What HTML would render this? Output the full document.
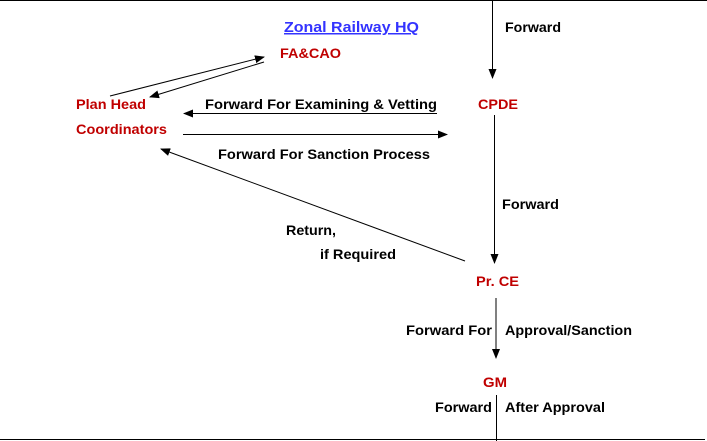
<!DOCTYPE html>
<html><head><meta charset="utf-8"><style>
html,body{margin:0;padding:0;background:#fff;}
svg{display:block;}
text{font-family:"Liberation Sans",Arial,sans-serif;font-weight:bold;font-size:14px;fill:#000;}
.r{fill:#c00000;}
</style></head><body>
<svg width="707" height="441" viewBox="0 0 707 441" xmlns="http://www.w3.org/2000/svg">
<defs><marker id="a" markerWidth="10" markerHeight="8" refX="9" refY="4" orient="auto" markerUnits="userSpaceOnUse"><path d="M0,0 L10,4 L0,8 z" fill="#000"/></marker></defs>
<g stroke="#000" stroke-width="1" fill="none">
<line x1="0" y1="0.5" x2="707" y2="0.5"/>
<line x1="0" y1="439.5" x2="705" y2="439.5"/>
<line x1="492.5" y1="0" x2="492.5" y2="78" marker-end="url(#a)"/>
<line x1="494.5" y1="115" x2="494.5" y2="263" marker-end="url(#a)"/>
<line x1="496" y1="298" x2="496" y2="358" marker-end="url(#a)"/>
<line x1="496.5" y1="395" x2="496.5" y2="441"/>
<line x1="110" y1="96" x2="264" y2="57" marker-end="url(#a)"/>
<line x1="264" y1="62" x2="150" y2="97" marker-end="url(#a)"/>
<line x1="437" y1="113.5" x2="184" y2="113.5" marker-end="url(#a)"/>
<line x1="183" y1="134.5" x2="447" y2="134.5" marker-end="url(#a)"/>
<line x1="465" y1="261" x2="161" y2="149" marker-end="url(#a)"/>
</g>
<g lengthAdjust="spacingAndGlyphs">
<text x="284" y="32" textLength="135" lengthAdjust="spacingAndGlyphs" style="fill:#3333ff;font-size:15px;text-decoration:underline">Zonal Railway HQ</text>
<text x="280" y="58" textLength="61" lengthAdjust="spacingAndGlyphs" class="r">FA&amp;CAO</text>
<text x="76" y="109" textLength="70" lengthAdjust="spacingAndGlyphs" class="r">Plan Head</text>
<text x="76" y="134" textLength="91" lengthAdjust="spacingAndGlyphs" class="r">Coordinators</text>
<text x="205" y="109" textLength="232" lengthAdjust="spacingAndGlyphs">Forward For Examining &amp; Vetting</text>
<text x="478" y="109" textLength="40" lengthAdjust="spacingAndGlyphs" class="r">CPDE</text>
<text x="218" y="159" textLength="212" lengthAdjust="spacingAndGlyphs">Forward For Sanction Process</text>
<text x="505" y="32" textLength="56" lengthAdjust="spacingAndGlyphs">Forward</text>
<text x="502" y="209" textLength="57" lengthAdjust="spacingAndGlyphs">Forward</text>
<text x="286" y="235" textLength="50" lengthAdjust="spacingAndGlyphs">Return,</text>
<text x="320" y="259" textLength="76" lengthAdjust="spacingAndGlyphs">if Required</text>
<text x="476" y="286" textLength="43" lengthAdjust="spacingAndGlyphs" class="r">Pr. CE</text>
<text x="406" y="335" textLength="86" lengthAdjust="spacingAndGlyphs">Forward For</text>
<text x="505" y="335" textLength="127" lengthAdjust="spacingAndGlyphs">Approval/Sanction</text>
<text x="483" y="387" textLength="24" lengthAdjust="spacingAndGlyphs" class="r">GM</text>
<text x="435" y="412" textLength="57" lengthAdjust="spacingAndGlyphs">Forward</text>
<text x="505" y="412" textLength="100" lengthAdjust="spacingAndGlyphs">After Approval</text>
</g>
</svg>
</body></html>
